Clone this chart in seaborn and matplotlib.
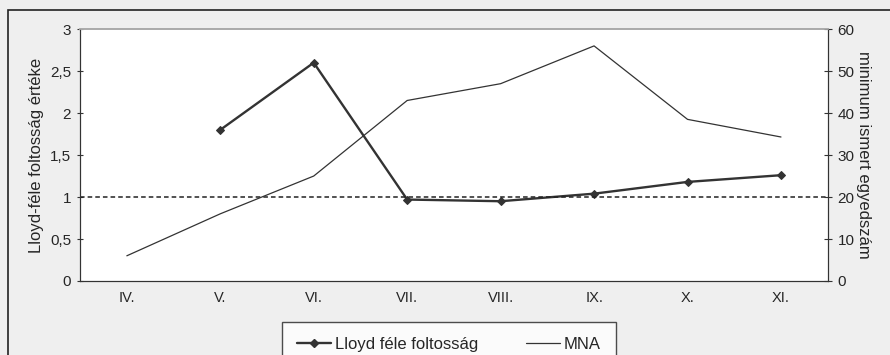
import matplotlib.pyplot as plt
import matplotlib.patches as mpatches
import numpy as np
import pandas as pd
import seaborn as sns

# havi adatok
honapok = ["IV.", "V.", "VI.", "VII.", "VIII.", "IX.", "X.", "XI."]
lloyd = [np.nan, 1.8, 2.6, 0.97, 0.95, 1.04, 1.18, 1.26]
mna = [6, 16, 25, 43, 47, 56, 38.5, 34.3]
kuszob = 1.0

df = pd.DataFrame({"pos": range(len(honapok)), "honap": honapok,
                   "lloyd": lloyd, "mna": mna})

sns.set_style("white")
plt.rcParams["font.family"] = ["Liberation Sans", "DejaVu Sans"]

fig = plt.figure(figsize=(8.9, 3.55), dpi=100)
fig.set_facecolor("#efefef")
ax = fig.add_axes([0.09, 0.2085, 0.84, 0.7095])
ax.set_facecolor("white")
ax2 = ax.twinx()

sns.lineplot(data=df, x="pos", y="lloyd", ax=ax, color="#333333", linewidth=1.7,
             marker="D", markersize=4, markeredgecolor="#333333", legend=False)
sns.lineplot(data=df, x="pos", y="mna", ax=ax2, color="#333333", linewidth=0.9,
             legend=False)
ax.axhline(kuszob, color="#222222", linestyle=(0, (3, 2)), linewidth=1.1, zorder=5)

ax.set_xlim(-0.5, len(honapok) - 0.5)
ax.set_ylim(0, 3)
ax2.set_ylim(0, 60)
ax.set_xticks(df["pos"])
ax.set_xticklabels(honapok, fontsize=10.5)
ax.set_xticks(np.arange(0.5, len(honapok) - 0.5, 1), minor=True)
ax.tick_params(axis="x", which="major", length=0, pad=7)
ax.tick_params(axis="x", which="minor", length=6, direction="inout", color="#333333")
ax.set_yticks([0, 0.5, 1, 1.5, 2, 2.5, 3])
ax.set_yticklabels(["0", "0,5", "1", "1,5", "2", "2,5", "3"], fontsize=11)
ax.tick_params(axis="y", length=5, direction="inout", color="#333333", pad=4)
ax2.set_yticks([0, 10, 20, 30, 40, 50, 60])
ax2.tick_params(axis="y", length=6, direction="inout", color="#333333", labelsize=11, pad=4)

ax.set_xlabel("")
ax.set_ylabel("Lloyd-féle foltosság értéke", fontsize=12, labelpad=4)
ax2.set_ylabel("minimum ismert egyedszám", fontsize=12, rotation=-90, labelpad=12)

for a in (ax, ax2):
    a.spines["top"].set_color("#aaaaaa")
    a.spines["left"].set_color("#333333")
    a.spines["right"].set_color("#333333")
    a.spines["bottom"].set_color("#333333")
    a.spines["top"].set_linewidth(1.2)

# kulso keret (jobb es also szele kilog a kepbol)
fig.patches.append(mpatches.Rectangle((0.009, -0.05), 1.05, 0.022 + 1.0, transform=fig.transFigure,
                                      fill=False, edgecolor="#222222", linewidth=1.2))

h1 = plt.Line2D([], [], color="#333333", linewidth=1.7, marker="D", markersize=4)
h2 = plt.Line2D([], [], color="#333333", linewidth=0.9)
leg = fig.legend([h1, h2], ["Lloyd féle foltosság", "MNA"], loc="upper center",
                 bbox_to_anchor=(0.5045, 0.093), ncol=2, fontsize=12, frameon=True,
                 fancybox=False, edgecolor="#222222", handlelength=2.0, handletextpad=0.25,
                 columnspacing=2.9, borderpad=0.9, borderaxespad=0)
leg.get_frame().set_linewidth(1.0)

fig.savefig("out.png", dpi=100, facecolor=fig.get_facecolor())
